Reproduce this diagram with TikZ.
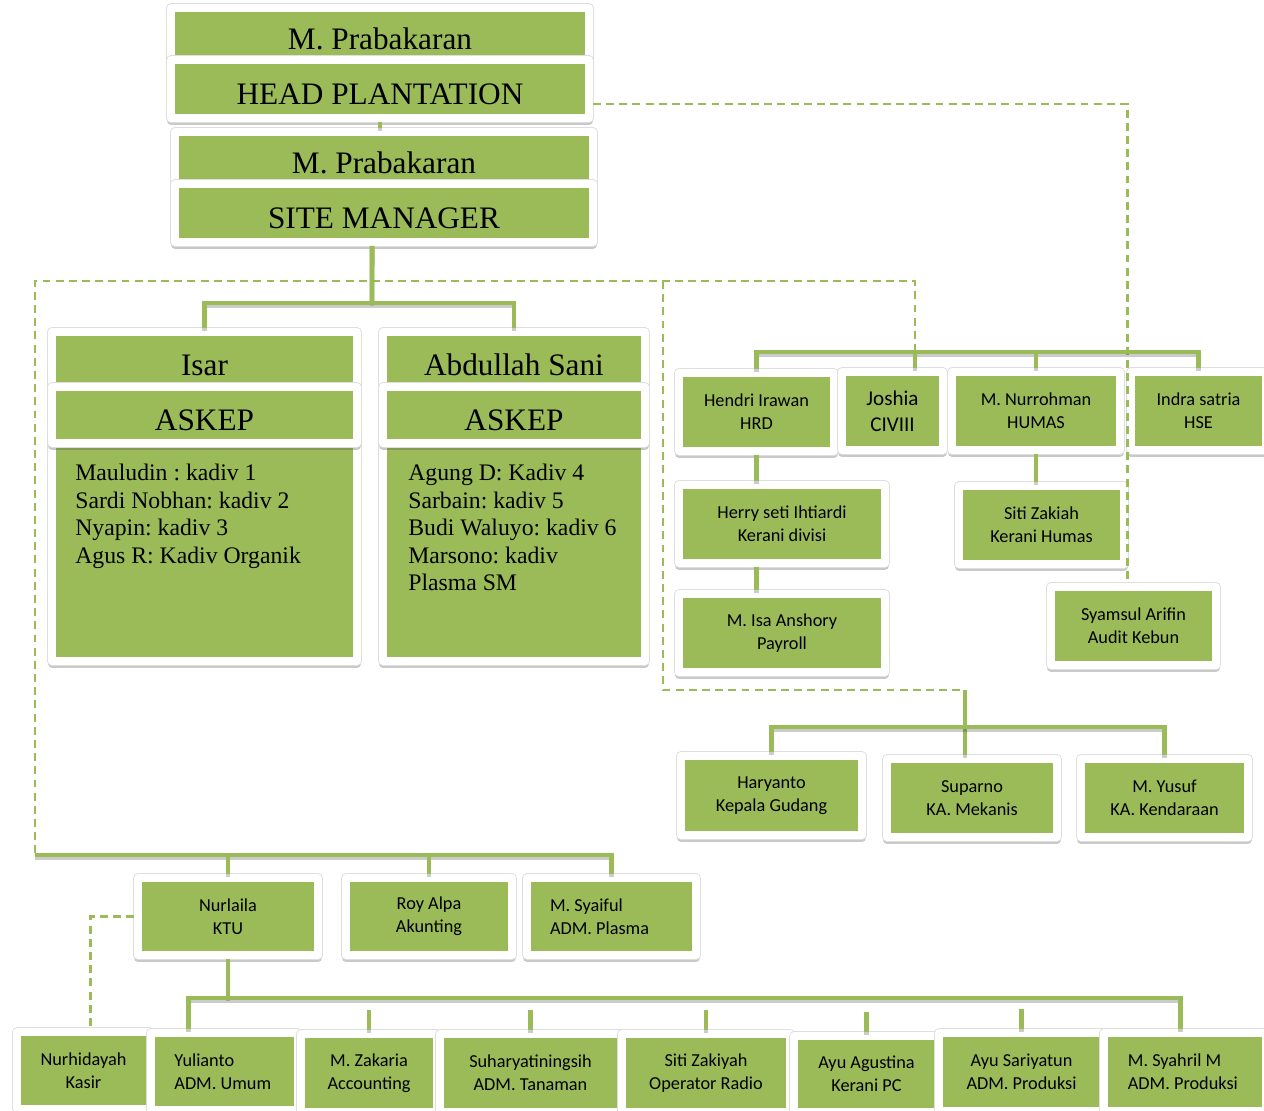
\documentclass[tikz,border=0pt]{standalone}
\usepackage{fontspec}
\setmainfont{Liberation Serif}
\setsansfont{Carlito}
\frenchspacing
\usetikzlibrary{shadows}
\definecolor{leaf}{HTML}{9BBB59}
\tikzset{
	card/.style={draw=white, fill=leaf, line width=4.5pt, line join=round, inner sep=0pt,
		drop shadow={shadow xshift=0pt, shadow yshift=-1.6pt, opacity=.3, fill=black!70, draw=black!70, line width=4.5pt},
		preaction={draw=black!13, line width=5.3pt}},
	wh/.style args={#1/#2}{minimum width=#1*0.02cm, minimum height=#2*0.02cm},
	title/.style={card, font=\fontsize{17.8}{20}\selectfont, text height=18pt, text depth=0pt},
	staff/.style={card, font=\sffamily\fontsize{10.4}{13}\selectfont, align=center},
	kadiv/.style={anchor=north west, inner sep=0pt, align=left, font=\fontsize{13.5}{15.6}\selectfont},
	link/.style={draw=leaf, line width=2.8pt, preaction={draw=black, opacity=.2, line width=2.8pt, transform canvas={yshift=-1.5pt}}},
	dline/.style={draw=leaf, line width=1.3pt, dash pattern=on 4.5pt off 3pt}
}
\begin{document}
\begin{tikzpicture}[x=0.02cm, y=-0.02cm]
		%%%%% START %%%%%
		\useasboundingbox (0,0) rectangle (1264,1110);
		
		\node[title, wh=418/52] (headA) at (380,34) {M. Prabakaran};
		\node[title, wh=418/58] (headB) at (380,89) {HEAD PLANTATION};
		\node[title, wh=418/52] (smA) at (384,158) {M. Prabakaran};
		\node[title, wh=418/58] (smB) at (384,213) {SITE MANAGER};
		
		\node[card, wh=305/218] (isarL) at (204.5,552) {};
		\node[title, wh=305/55] (isarA) at (204.5,359.5) {Isar};
		\node[title, wh=305/56] (isarB) at (204.5,415) {ASKEP};
		\node[kadiv] (isarK) at (75,464) {Mauludin : kadiv 1\\Sardi Nobhan: kadiv 2\\Nyapin: kadiv 3\\Agus R: Kadiv Organik};
		
		\node[card, wh=262/218] (abdL) at (514,552) {};
		\node[title, wh=262/55] (abdA) at (514,359.5) {Abdullah Sani};
		\node[title, wh=262/56] (abdB) at (514,415) {ASKEP};
		\node[kadiv] (abdK) at (408,464) {Agung D: Kadiv 4\\Sarbain: kadiv 5\\Budi Waluyo: kadiv 6\\Marsono: kadiv\\Plasma SM};
		
		\node[staff, wh=155/78] (hrd) at (756.5,412) {Hendri Irawan\\HRD};
		\node[staff, wh=101/78, font=\sffamily\fontsize{12}{14.7}\selectfont] (civil) at (892.5,411) {Joshia\\CIVIII};
		\node[staff, wh=168/78] (humas) at (1036,411) {M. Nurrohman\\HUMAS};
		\node[staff, wh=135/78] (hse) at (1198.5,411) {Indra satria\\HSE};
		\node[staff, wh=206/78] (divisi) at (782,524) {Herry seti Ihtiardi\\Kerani divisi};
		\node[staff, wh=206/78] (payroll) at (782,633) {M. Isa Anshory\\Payroll};
		\node[staff, wh=165/78] (kerhumas) at (1041.5,525) {Siti Zakiah\\Kerani Humas};
		\node[staff, wh=165/78] (audit) at (1133.5,626) {Syamsul Arifin\\Audit Kebun};
		
		\node[staff, wh=181/79] (gudang) at (771.5,795.5) {Haryanto\\Kepala Gudang};
		\node[staff, wh=170/78] (mekanis) at (972,798) {Suparno\\KA. Mekanis};
		\node[staff, wh=167/78] (kendaraan) at (1164.5,798) {M. Yusuf\\KA. Kendaraan};
		
		\node[staff, wh=180/77] (ktu) at (228,916.5) {Nurlaila\\KTU};
		\node[staff, wh=166/77] (akunting) at (429,916.5) {Roy Alpa\\Akunting};
		\node[staff, wh=169/77, text width=70pt, align=flush left] (plasma) at (611.5,916.5) {M. Syaiful\\ADM. Plasma};
		
		\node[staff, wh=133/77] (kasir) at (83.5,1070.5) {Nurhidayah\\Kasir};
		\node[staff, wh=147/77, text width=57pt, align=flush left] (umum) at (224.5,1071.5) {Yulianto\\ADM. Umum};
		\node[staff, wh=136/78] (zakaria) at (369,1073) {M. Zakaria\\Accounting};
		\node[staff, wh=181/78] (tanaman) at (530.5,1073) {Suharyatiningsih\\ADM. Tanaman};
		\node[staff, wh=168/78] (radio) at (706,1073) {Siti Zakiyah\\Operator Radio};
		\node[staff, wh=145/76] (kpc) at (866.5,1074) {Ayu Agustina\\Kerani PC};
		\node[staff, wh=165/78] (produksiA) at (1021.5,1072) {Ayu Sariyatun\\ADM. Produksi};
		\node[staff, wh=162/78, text width=65pt, align=flush left] (produksiB) at (1185,1072) {M. Syahril M\\ADM. Produksi};
		
		\coordinate (askfork) at (372,303);
		\coordinate (staffbus) at (915,352);
		\coordinate (dfork) at (663,281);
		\coordinate (wsdash) at (965,690);
		\coordinate (wsbus) at (965,727);
		\coordinate (ofbus) at (35,855);
		\coordinate (admbus) at (228,998);
		
		\draw[dline] ([yshift=-8.5pt]headB.east) -| ([xshift=-3.4pt]audit.north);
		\draw[dline] (staffbus) |- (dfork) -| (ofbus);
		\draw[dline] (dfork) |- (wsdash);
		\draw[dline] (ktu.west) -| ([xshift=4pt]kasir.north);
		
		\draw[link] (headB.south) -- (headB.south |- smA.north);
		\draw[link] ([xshift=-6.8pt]smB.south) -- (askfork);
		\draw[link] (isarA.north) |- (askfork) -| (abdA.north);
		
		\draw[link] (hrd.north) |- (staffbus) -| (hse.north);
		\draw[link] (staffbus) -- (staffbus |- civil.north);
		\draw[link] (humas.north) -- (humas.north |- staffbus);
		\draw[link] (hrd.south) -- (hrd.south |- divisi.north);
		\draw[link] (divisi.south -| hrd.south) -- (payroll.north -| hrd.south);
		\draw[link] (humas.south) -- (humas.south |- kerhumas.north);
		
		\draw[link] (wsdash) -- (wsdash |- mekanis.north);
		\draw[link] (gudang.north) |- (wsbus) -| (kendaraan.north);
		
		\draw[link] (ofbus) -| (plasma.north);
		\draw[link] (ktu.north) -- (ktu.north |- ofbus);
		\draw[link] (akunting.north) -- (akunting.north |- ofbus);
		\draw[link] (ktu.south) -- (admbus);
		\draw[link] ([xshift=-20.4pt]umum.north) |- (admbus) -| ([xshift=-2.8pt]produksiB.north);
		\foreach \n in {zakaria,tanaman,radio,kpc,produksiA}
			\draw[link] (\n.north) -- ++(0,-20);
		
		%%%%% END %%%%%
\end{tikzpicture}
\end{document}
